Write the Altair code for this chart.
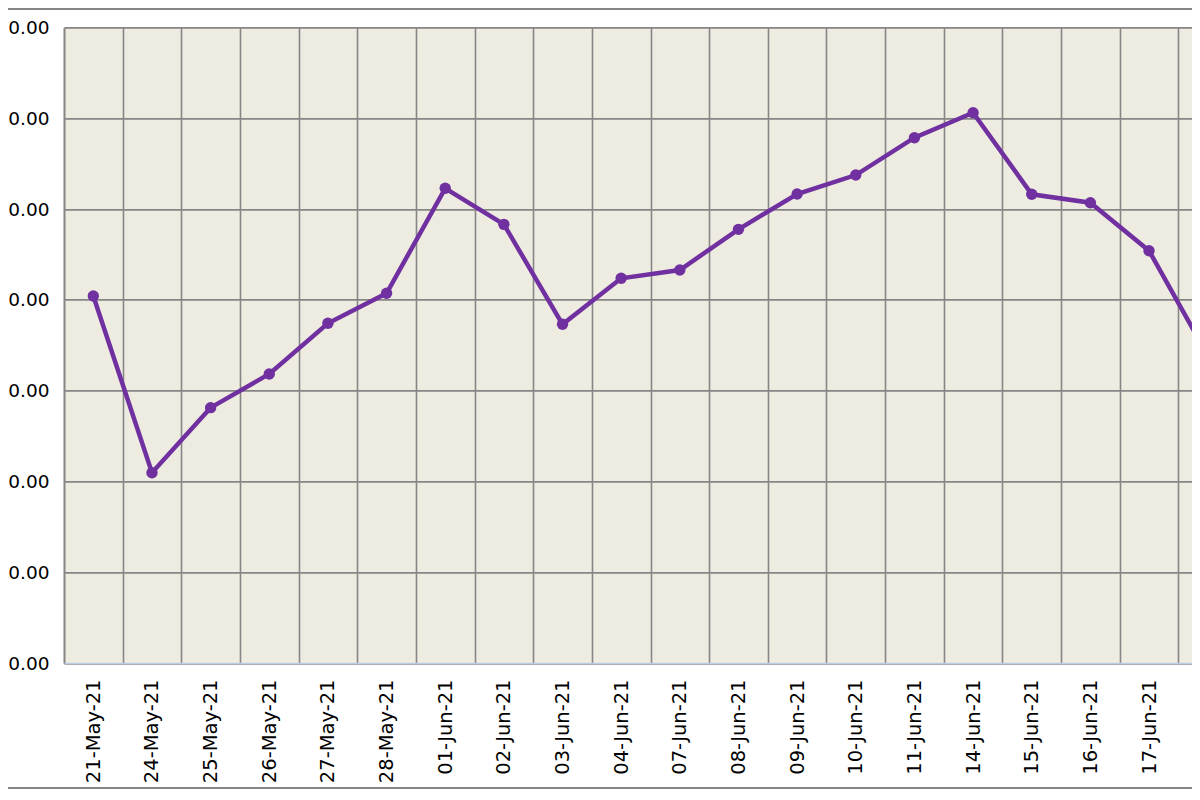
import altair as alt
import pandas as pd

# Trading days shown on the category axis (the last one runs off the right edge).
DATES = [
    "21-May-21", "24-May-21", "25-May-21", "26-May-21", "27-May-21", "28-May-21",
    "01-Jun-21", "02-Jun-21", "03-Jun-21", "04-Jun-21", "07-Jun-21", "08-Jun-21",
    "09-Jun-21", "10-Jun-21", "11-Jun-21", "14-Jun-21", "15-Jun-21", "16-Jun-21",
    "17-Jun-21", "18-Jun-21",
]
VALUES = [
    40.42, 20.96, 28.12, 31.83, 37.41, 40.72,
    52.28, 48.31, 37.30, 42.37, 43.28, 47.76,
    51.65, 53.74, 57.85, 60.61, 51.62, 50.69,
    45.41, 33.87,
]
Y_TICKS = [0, 10, 20, 30, 40, 50, 60, 70]

PURPLE = "#7030A0"
PLOT_BG = "#EEECE1"
GRID = "#868686"
X_DOMAIN = "#B9CDE5"
FONT = "DejaVu Sans"

STEP = 58.65
PLOT_W = 1128  # the svg may not be wider than the page body (1184px)
PLOT_H = 635.6

df = pd.DataFrame({"Date": DATES, "Value": VALUES})

x = alt.X(
    "Date:N",
    sort=DATES,
    title=None,
    scale=alt.Scale(type="band", paddingInner=0, paddingOuter=0, range=[0, STEP * len(DATES)]),
    axis=alt.Axis(
        labelAngle=270,
        labelPadding=16,
        labelFontSize=19.5,
        labelColor="#000000",
        ticks=False,
        tickBand="extent",
        grid=True,
        gridColor=GRID,
        gridWidth=1.6,
        domainColor=X_DOMAIN,
        domainWidth=1.6,
    ),
)
y = alt.Y(
    "Value:Q",
    title=None,
    scale=alt.Scale(domain=[0, 70], nice=False, zero=True),
    axis=alt.Axis(
        values=Y_TICKS,
        format=".2f",
        labelPadding=15,
        labelFontSize=18.5,
        labelColor="#000000",
        ticks=False,
        grid=True,
        gridColor=GRID,
        gridWidth=1.6,
        domainColor=GRID,
        domainWidth=1.6,
    ),
)

line = (
    alt.Chart(df)
    .mark_line(
        color=PURPLE,
        strokeWidth=4.5,
        point=alt.OverlayMarkDef(filled=True, color=PURPLE, size=130, opacity=1),
    )
    .encode(x=x, y=y)
)

# outer chart frame (Excel chart-area border), top and bottom
frame_top = alt.Chart(df).mark_rule(color=GRID, strokeWidth=1.5).encode(
    x=alt.value(-56), x2=alt.value(PLOT_W), y=alt.value(-18.5)
)
frame_bottom = alt.Chart(df).mark_rule(color=GRID, strokeWidth=2).encode(
    x=alt.value(-56), x2=alt.value(PLOT_W), y=alt.value(PLOT_H + 125)
)

chart = (
    alt.layer(line, frame_top, frame_bottom)
    .properties(
        width=PLOT_W,
        height=PLOT_H,
        autosize=alt.AutoSizeParams(type="none"),
        padding={"left": 56, "top": 19.4, "right": 0, "bottom": 127},
        background="#FFFFFF",
    )
    .configure(font=FONT)
    .configure_view(fill=PLOT_BG, stroke=None)
)

chart.save("out.html", embed_options={"renderer": "svg", "actions": False})
